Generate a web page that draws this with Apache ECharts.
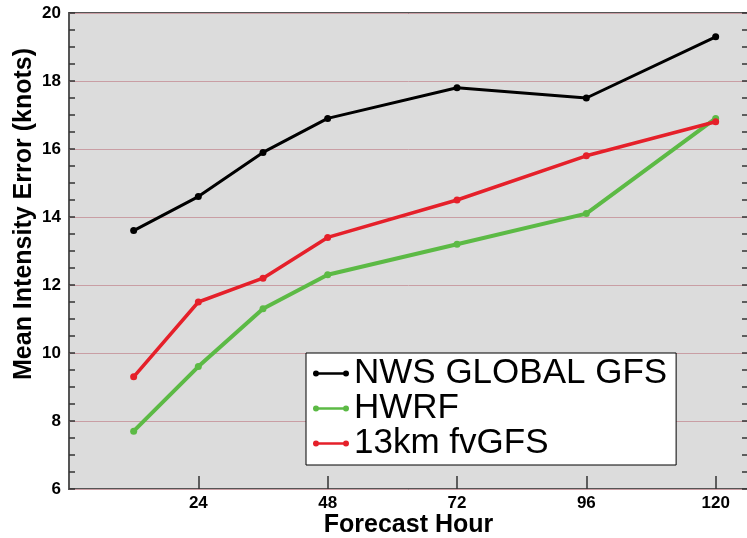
<!DOCTYPE html>
<html>
<head>
<meta charset="utf-8">
<script src="https://cdn.jsdelivr.net/npm/echarts@6/dist/echarts.min.js"></script>
<style>
html, body { margin: 0; padding: 0; background: #fff; }
#chart { width: 747px; height: 538px; }
</style>
</head>
<body>
<div id="chart"></div>
<script>
// forecast hours and mean intensity errors (knots)
var hours = [12, 24, 36, 48, 72, 96, 120];
var gfsGlobal = [13.6, 14.6, 15.9, 16.9, 17.8, 17.5, 19.3];
var hwrf = [7.7, 9.6, 11.3, 12.3, 13.2, 14.1, 16.9];
var fvgfs = [9.3, 11.5, 12.2, 13.4, 14.5, 15.8, 16.8];
var xTicks = [24, 48, 72, 96, 120];
var seriesNames = ['NWS GLOBAL GFS', 'HWRF', '13km fvGFS'];

function pairs(vals) {
    return hours.map(function (h, i) { return [h, vals[i]]; });
}

var font = '"Liberation Sans", Arial, sans-serif';
// line with a dot at each end, like the original legend
var legendIcon = 'path://M2,1.8 L34,1.8 L34,4.2 L2,4.2 Z M0,3 A3,3 0 1,1 6,3 A3,3 0 1,1 0,3 Z M30,3 A3,3 0 1,1 36,3 A3,3 0 1,1 30,3 Z';

function yAxis(pos) {
    return {
        type: 'value',
        position: pos,
        min: 6,
        max: 20,
        interval: 2,
        name: pos === 'left' ? 'Mean Intensity Error (knots)' : '',
        nameLocation: 'middle',
        nameGap: 32,
        nameMoveOverlap: false,
        nameTextStyle: { fontFamily: font, fontSize: 25, fontWeight: 'bold', color: '#000', padding: [0, 0, 0, 74] },
        axisLine: { show: false },
        axisTick: { show: true, inside: true, length: 6, lineStyle: { color: '#333', width: 1.5 } },
        minorTick: { show: true, splitNumber: 4, length: 6, lineStyle: { color: '#333', width: 1.5 } },
        axisLabel: { show: pos === 'left', fontFamily: font, fontSize: 17, fontWeight: 'bold', color: '#000', margin: 8 },
        splitLine: { show: pos === 'left', lineStyle: { color: '#c99ea4', width: 1 } }
    };
}

function line(name, vals, color, width) {
    return {
        name: name,
        type: 'line',
        data: pairs(vals),
        color: color,
        symbol: 'circle',
        symbolSize: 7,
        lineStyle: { color: color, width: width },
        itemStyle: { color: color },
        animation: false
    };
}

var myChart = echarts.init(document.getElementById('chart'));
var option = {
    backgroundColor: '#fff',
    grid: {
        left: 69, right: -1, top: 13, bottom: 49,
        outerBoundsMode: 'none',
        containLabel: false,
        show: true, backgroundColor: '#dcdcdc', borderColor: '#555', borderWidth: 2
    },
    legend: {
        data: seriesNames,
        orient: 'vertical',
        left: 306,
        top: 353,
        width: 374,
        padding: [3, 9, 4, 7],
        itemGap: 0,
        itemWidth: 36,
        itemHeight: 6,
        icon: legendIcon,
        backgroundColor: '#fff',
        borderColor: '#000',
        borderWidth: 1,
        textStyle: { fontFamily: font, fontSize: 35, color: '#000', lineHeight: 34 }
    },
    xAxis: {
        type: 'value',
        min: 0,
        max: 126,
        name: 'Forecast Hour',
        nameLocation: 'middle',
        nameGap: 24,
        nameMoveOverlap: false,
        nameTextStyle: { fontFamily: font, fontSize: 25, fontWeight: 'bold', color: '#000' },
        axisLine: { show: false },
        axisTick: { show: true, inside: true, length: 13, customValues: xTicks, lineStyle: { color: '#333', width: 1.5 } },
        axisLabel: { fontFamily: font, fontSize: 17, fontWeight: 'bold', color: '#000', margin: 6, customValues: xTicks },
        splitLine: { show: false }
    },
    yAxis: [yAxis('left'), yAxis('right')],
    series: [
        line(seriesNames[0], gfsGlobal, '#000000', 3),
        line(seriesNames[1], hwrf, '#5cba45', 4),
        line(seriesNames[2], fvgfs, '#e5202a', 3.5)
    ]
};
myChart.setOption(option);
</script>
</body>
</html>
